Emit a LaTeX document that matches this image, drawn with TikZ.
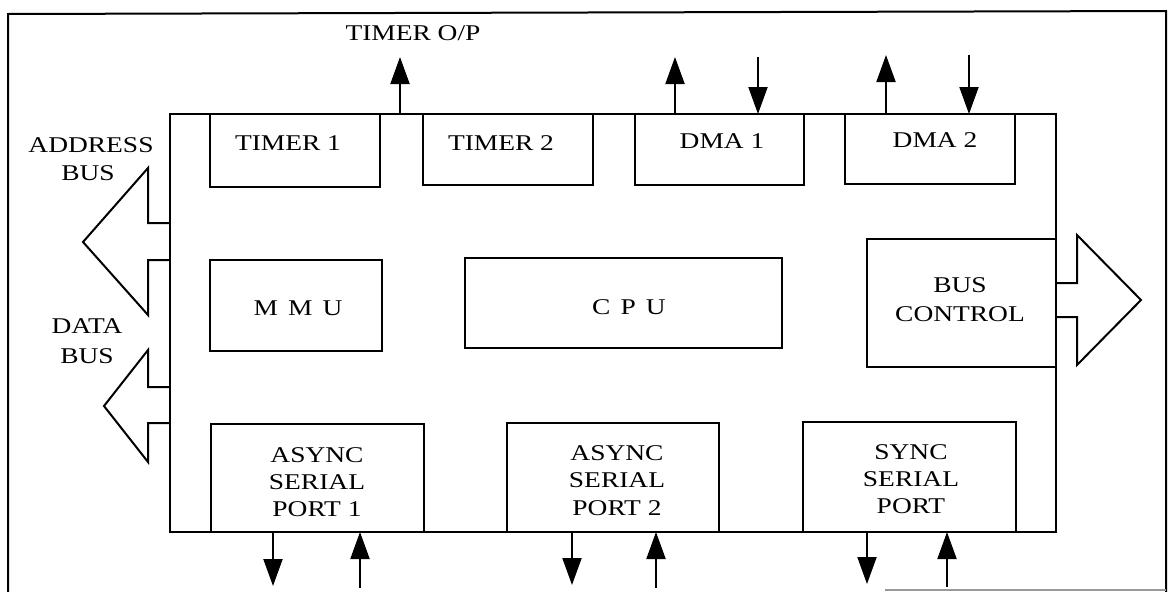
\documentclass[tikz,border=0pt]{standalone}
\usepackage{fontspec}
\setmainfont{Liberation Serif}[FakeStretch=1.22]
\usetikzlibrary{arrows.meta}
\begin{document}
\begin{tikzpicture}[x=1pt,y=-1pt,
  box/.style={draw,line width=2pt,inner sep=0pt,outer sep=0pt,anchor=north west},
  lbl/.style={inner sep=0pt,anchor=base,font=\fontsize{22.5}{27}\selectfont},
  arr/.style={line width=2pt,-{Triangle[width=19pt,length=27pt]}},
  bus/.style={draw,line width=2pt,line join=miter},
  frame/.style={line width=2pt}]
\useasboundingbox (0,0) rectangle (1168,592);
% outer frame
\draw[frame] (8,592) -- (8,14) -- (1166,11) -- (1166,592);
\draw[line width=2pt,black!40] (885,590) -- (1166,590);
% chip
\node[box,minimum width=886pt,minimum height=418pt] (chip) at (170,114) {};
% top blocks
\node[box,minimum width=170pt,minimum height=73pt] (timer1) at (210,114) {};
\node[box,minimum width=170pt,minimum height=71pt] (timer2) at (423,114) {};
\node[box,minimum width=169pt,minimum height=71pt] (dma1) at (635,114) {};
\node[box,minimum width=170pt,minimum height=70pt] (dma2) at (845,114) {};
% middle blocks
\node[box,minimum width=172pt,minimum height=91pt] (mmu) at (210,260) {};
\node[box,minimum width=317pt,minimum height=90pt] (cpu) at (465,258) {};
\node[box,minimum width=189pt,minimum height=128pt] (busctl) at (867,239) {};
% bottom blocks
\node[box,minimum width=213pt,minimum height=108pt] (async1) at (211,424) {};
\node[box,minimum width=212pt,minimum height=109pt] (async2) at (507,423) {};
\node[box,minimum width=213pt,minimum height=110pt] (sync) at (803,422) {};
% labels
\node[lbl] (ltimer1) at (288,150) {TIMER 1};
\node[lbl] (ltimer2) at (501,150) {TIMER 2};
\node[lbl] (ldma1) at (722,148) {DMA 1};
\node[lbl] (ldma2) at (935,147) {DMA 2};
\node[lbl] (lmmu) at (298,315) {M\hspace{0.45em}M\hspace{0.45em}U};
\node[lbl] (lcpu) at (629,314) {C\hspace{0.45em}P\hspace{0.45em}U};
\node[lbl] (lbus) at (960,292) {BUS};
\node[lbl] (lctl) at (960,321) {CONTROL};
\node[lbl] (ladr) at (91,152) {ADDRESS};
\node[lbl] (ladrb) at (88,180) {BUS};
\node[lbl] (ldata) at (87,333) {DATA};
\node[lbl] (ldatab) at (87,363) {BUS};
\node[lbl] (ltout) at (413,40) {TIMER O/P};
\node[lbl] (la1a) at (317,462) {ASYNC};
\node[lbl] (la1b) at (317,489) {SERIAL};
\node[lbl] (la1c) at (317,516) {PORT 1};
\node[lbl] (la2a) at (617,460) {ASYNC};
\node[lbl] (la2b) at (617,487) {SERIAL};
\node[lbl] (la2c) at (617,515) {PORT 2};
\node[lbl] (lsa) at (911,459) {SYNC};
\node[lbl] (lsb) at (911,486) {SERIAL};
\node[lbl] (lsc) at (911,513) {PORT};
% arrow end points
\coordinate (tA) at (400,114); \coordinate (tB) at (400,57);
\coordinate (d1a) at (675,114); \coordinate (d1b) at (675,57);
\coordinate (d1c) at (758,57); \coordinate (d1d) at (758,114);
\coordinate (d2a) at (886,114); \coordinate (d2b) at (886,55);
\coordinate (d2c) at (969,55); \coordinate (d2d) at (969,114);
\coordinate (a1a) at (273,532); \coordinate (a1b) at (273,586);
\coordinate (a1c) at (360,588); \coordinate (a1d) at (360,532);
\coordinate (a2a) at (572,532); \coordinate (a2b) at (572,585);
\coordinate (a2c) at (656,588); \coordinate (a2d) at (656,532);
\coordinate (sa) at (867,532); \coordinate (sb) at (867,584);
\coordinate (sc) at (947,587); \coordinate (sd) at (947,532);
% signal arrows
\draw[arr] (tA) -- (tB);
\draw[arr] (d1a) -- (d1b);
\draw[arr] (d1c) -- (d1d);
\draw[arr] (d2a) -- (d2b);
\draw[arr] (d2c) -- (d2d);
\draw[arr] (a1a) -- (a1b);
\draw[arr] (a1c) -- (a1d);
\draw[arr] (a2a) -- (a2b);
\draw[arr] (a2c) -- (a2d);
\draw[arr] (sa) -- (sb);
\draw[arr] (sc) -- (sd);
% bus arrows
\draw[bus] (170,223) -- (148,223) -- (148,168) -- (83,242) -- (148,315) -- (148,260) -- (170,260);
\draw[bus] (170,387) -- (148,387) -- (148,350) -- (104,406) -- (148,462) -- (148,423) -- (170,423);
\draw[bus] (1056,283) -- (1077,283) -- (1077,235) -- (1141,300) -- (1077,365) -- (1077,317) -- (1056,317);
\end{tikzpicture}
\end{document}
